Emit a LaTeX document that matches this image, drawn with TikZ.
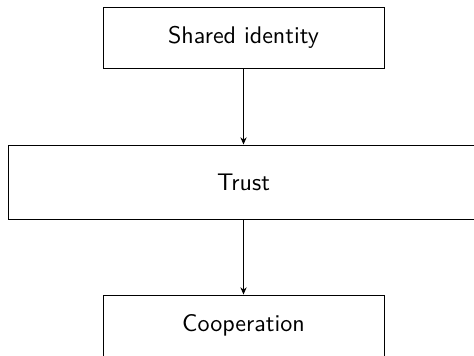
\documentclass[tikz,border=0pt]{standalone}
\usetikzlibrary{arrows.meta}
\begin{document}
\begin{tikzpicture}[x=0.4157pt,y=-0.4157pt,
  font=\sffamily,
  box/.style={draw, line width=0.4pt, inner sep=0pt, align=center},
  link/.style={draw, line width=0.4pt, -{Stealth[length=3pt,width=2.6pt]}}]
  \useasboundingbox (0,0) rectangle (474,355);
  % three stacked boxes on a common vertical axis
  \node[box, minimum width={281*0.4157pt}, minimum height={61*0.4157pt}] (identity) at (243.5,37.5) {Shared identity};
  \node[box, minimum width={471*0.4157pt}, minimum height={74*0.4157pt}] (trust) at (243.5,182) {Trust};
  \node[box, minimum width={281*0.4157pt}, minimum height={61*0.4157pt}] (coop) at (243.5,325.5) {Cooperation};
  % causal links
  \draw[link] (identity) -- (trust);
  \draw[link] (trust) -- (coop);
\end{tikzpicture}
\end{document}
